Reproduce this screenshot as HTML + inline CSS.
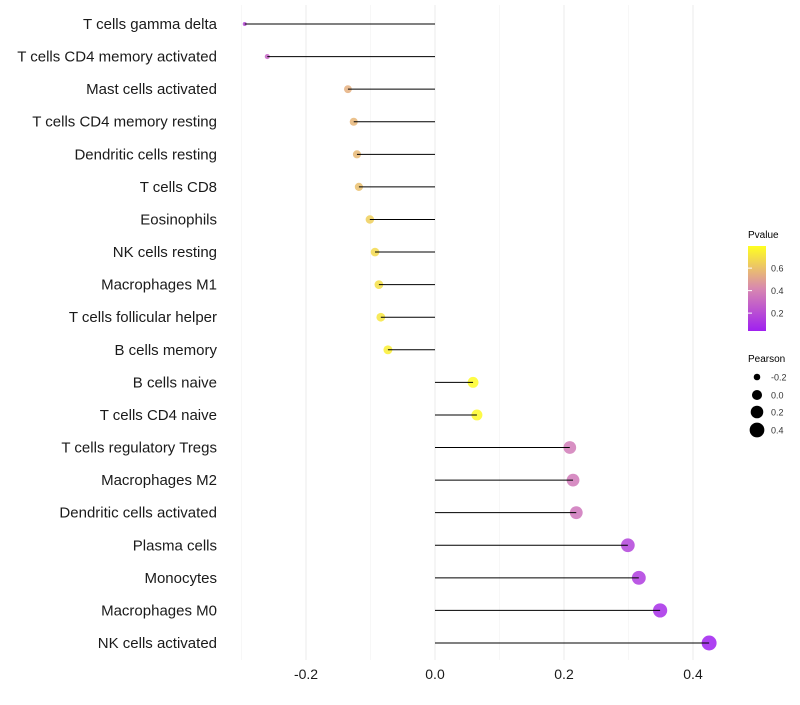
<!DOCTYPE html>
<html><head><meta charset="utf-8"><style>
body{margin:0;background:#fff;font-family:"Liberation Sans",sans-serif}
</style></head><body>
<svg id="chart" width="800" height="700" xmlns="http://www.w3.org/2000/svg">
<g id="grid"></g>
<g id="marks"></g>
<g id="sticks"></g>
<g id="ylabels"></g>
<g id="xlabels"></g>
<g id="legend">
<defs><linearGradient id="pg" x1="0" y1="1" x2="0" y2="0">
<stop offset="0" stop-color="#a020f0"/><stop offset="0.5" stop-color="#d888b0"/><stop offset="1" stop-color="#ffff20"/></linearGradient></defs>
<text x="748" y="238" font-size="10">Pvalue</text>
<rect x="748" y="246" width="18" height="85" fill="url(#pg)"/>
<text x="748" y="362" font-size="10">Pearson</text>
</g>
</svg>
<script>
const categories=["T cells gamma delta","T cells CD4 memory activated","Mast cells activated","T cells CD4 memory resting","Dendritic cells resting","T cells CD8","Eosinophils","NK cells resting","Macrophages M1","T cells follicular helper","B cells memory","B cells naive","T cells CD4 naive","T cells regulatory  Tregs ","Macrophages M2","Dendritic cells activated","Plasma cells","Monocytes","Macrophages M0","NK cells activated"];
const pearson=[-0.295,-0.26,-0.135,-0.126,-0.121,-0.118,-0.101,-0.093,-0.087,-0.084,-0.073,0.059,0.065,0.209,0.214,0.219,0.299,0.316,0.349,0.425];
const pvalue=[0.2,0.3,0.55,0.57,0.58,0.6,0.65,0.68,0.7,0.72,0.75,0.79,0.78,0.38,0.37,0.36,0.18,0.15,0.1,0.05];
const xTicks=[-0.2,0,0.2,0.4];
const xMinor=[-0.3,-0.1,0.1,0.3];
const colorTicks=[0.2,0.4,0.6];
const sizeTicks=[-0.2,0,0.2,0.4];
const NS="http://www.w3.org/2000/svg";
const x=v=>435+v*645;
const y=i=>24+i*(619/19);
const rad=v=>Math.sqrt(Math.max(2,25.3+72.2*v));
const cy=p=>330-(p-0.05)*112.5;
function lerp(a,b,t){return a.map((c,i)=>Math.round(c+(b[i]-c)*t));}
function col(p){const t=Math.max(0,Math.min(1,(p-0.05)/0.75));
 const A=[160,32,240],M=[216,136,176],B=[255,255,32];
 const c=t<0.5?lerp(A,M,t*2):lerp(M,B,(t-0.5)*2);return `rgb(${c})`;}
function mk(tag,attrs,parent,text){const e=document.createElementNS(NS,tag);for(const k in attrs)e.setAttribute(k,attrs[k]);if(text!==undefined)e.textContent=text;parent.appendChild(e);return e;}
const grid=document.getElementById('grid'),marks=document.getElementById('marks'),sticks=document.getElementById('sticks'),yl=document.getElementById('ylabels'),xl=document.getElementById('xlabels'),lg=document.getElementById('legend');
xMinor.forEach(v=>{const l=mk('line',{x1:x(v),x2:x(v),y1:5,y2:660,stroke:'#f2f2f2','stroke-width':0.6},grid);

});
xTicks.forEach(v=>{const l=mk('line',{x1:x(v),x2:x(v),y1:5,y2:660,stroke:'#ebebeb','stroke-width':1},grid);


const t=mk('text',{x:x(v),y:679,'font-size':14,'text-anchor':'middle',fill:'#1a1a1a'},xl,v===0?'0.0':v.toFixed(1));

});
categories.forEach((c,i)=>{
 const yy=y(i);
 const d=mk('circle',{cx:x(pearson[i]),cy:yy,r:rad(pearson[i]),fill:col(pvalue[i]),'fill-opacity':0.85},marks);
 
 
 const hl=mk('line',{x1:x(0),x2:x(pearson[i]),y1:yy,y2:yy,stroke:'#000','stroke-width':1},sticks);
 
 
 const t=mk('text',{x:217,y:yy+5,'font-size':15,'text-anchor':'end',fill:'#1a1a1a'},yl,c);
 
 
});
colorTicks.forEach(p=>{
 const tk=mk('line',{x1:748,x2:752,y1:cy(p),y2:cy(p),stroke:'#fff'},lg);
 
 
 const t=mk('text',{x:771,y:cy(p)+3.5,'font-size':9,fill:'#333'},lg,p.toFixed(1));
 
 
});
const sy=[377,395,412,430];
sizeTicks.forEach((v,i)=>{
 const c=mk('circle',{cx:757,cy:sy[i],r:rad(v),fill:'#000'},lg);
 
 
 const t=mk('text',{x:771,y:sy[i]+3.5,'font-size':9,fill:'#333'},lg,v===0?'0.0':v.toFixed(1));
 
 
});
</script>
</body></html>
